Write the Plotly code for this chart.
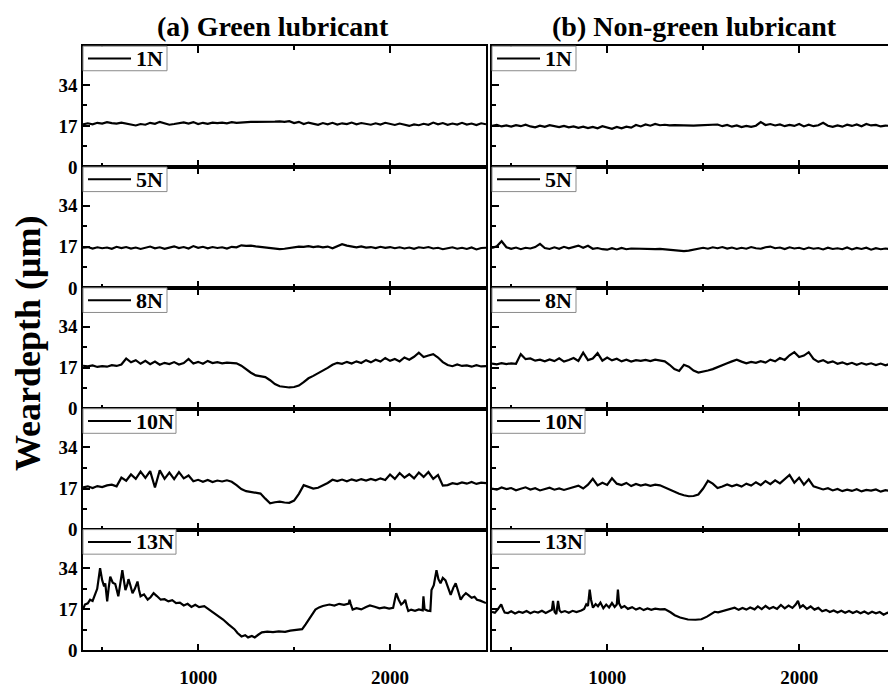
import plotly.graph_objects as go

# ---------------- data ----------------
sliding_x = list(range(400, 2501, 25))  # sampling positions (shared grid)

green_1N = [17.6, 18.1, 17.7, 18.3, 18.0, 18.6, 18.2, 18.0, 18.4, 17.9, 17.6, 17.2,
            17.8, 17.5, 18.3, 17.9, 18.7, 18.2, 17.5, 17.8, 18.1, 18.5, 18.0, 18.6,
            17.8, 18.3, 17.9, 18.4, 18.2, 18.4, 18.1, 18.6, 18.3, 18.5, 18.6, 18.7,
            18.7, 18.8, 18.7, 18.8, 18.8, 18.9, 18.7, 19.0, 18.2, 18.7, 17.8, 18.4,
            17.9, 17.5, 18.2, 17.7, 18.3, 17.6, 18.1, 17.8, 18.4, 17.7, 18.2, 17.9,
            17.5, 18.1, 17.6, 18.3, 17.8, 17.4, 18.0, 17.5, 17.0, 17.6, 17.3, 17.9,
            17.5, 18.4, 17.7, 18.2, 17.5, 18.0, 17.6, 18.3, 17.6, 18.0, 17.4, 18.1,
            17.7]
nongreen_1N = [17.0, 17.4, 16.8, 17.2, 16.7, 17.3, 16.9, 17.5, 16.8, 16.4, 17.1, 16.6,
               17.3, 16.9, 16.5, 17.0, 16.4, 16.8, 16.2, 16.7, 16.1, 16.6, 16.0, 16.9,
               16.2, 15.8, 16.6, 16.0, 16.7, 16.3, 17.4, 16.8, 17.6, 17.1, 17.8, 17.3,
               17.5, 17.2, 17.3, 17.2, 17.2, 17.3, 17.1, 17.2, 17.3, 17.1, 17.3, 17.6,
               16.9, 17.4, 16.7, 17.2, 16.5, 17.0, 16.6, 17.1, 18.6, 17.4, 17.8, 17.2,
               17.6, 16.9, 17.4, 17.0, 17.8, 16.8, 17.5, 16.9, 17.3, 18.3, 17.1, 16.6,
               17.2, 16.7, 17.5, 17.0, 17.6, 16.9, 17.8, 17.2, 17.4, 16.8, 17.1, 16.9,
               17.0]
green_5N = [16.6, 16.9, 16.3, 16.8, 16.4, 16.7, 16.2, 17.0, 16.5, 16.9, 16.3, 16.7,
            16.1, 16.6, 17.1, 16.4, 16.8, 16.2, 16.7, 17.2, 16.5, 16.9, 16.3, 17.3,
            16.6, 17.0, 16.4, 16.9, 16.5, 16.8, 16.3, 17.0, 16.8, 17.6, 17.4, 17.5,
            17.2, 16.9, 16.6, 16.3, 16.1, 16.0, 16.2, 16.5, 16.9, 17.1, 17.0, 17.3,
            16.9, 17.2, 16.8, 17.1, 16.4, 17.4, 18.1, 17.5, 17.1, 16.8, 17.2, 16.7,
            16.9, 16.5, 17.0, 16.6, 16.9, 16.4, 16.8, 16.3, 16.7, 16.2, 16.8, 16.5,
            16.9, 16.3, 16.6, 16.0, 16.4, 16.8, 16.2, 16.6, 16.1, 16.7, 15.9, 16.5,
            16.6]
nongreen_5N = [16.5, 17.2, 19.3, 16.8, 16.2, 16.7, 16.0, 16.6, 16.3, 16.9, 18.2, 16.5,
               16.1, 16.8, 16.2, 17.0, 16.4, 17.1, 17.5, 16.6, 17.4, 16.2, 16.5, 16.0,
               15.8, 16.4, 15.9, 16.5, 16.0, 16.3, 16.2, 16.4, 16.3, 16.2, 16.0, 16.1,
               15.9, 15.7, 15.4, 15.3, 15.2, 15.4, 15.9, 16.3, 16.6, 16.2, 16.8, 16.4,
               16.9, 16.3, 16.7, 16.1, 16.6, 16.2, 16.9, 16.4, 16.2, 16.8, 17.1, 16.4,
               16.7, 16.1, 16.8, 16.3, 16.6, 16.0, 16.7, 16.2, 16.5, 15.9, 16.6, 16.1,
               16.4, 16.0, 16.7, 15.9, 16.5, 16.1, 16.6, 15.8, 16.4, 16.0, 16.3, 15.9,
               16.2]
green_8N = [17.8, 17.5, 17.9, 17.3, 17.6, 17.4, 18.0, 17.7, 18.3, 20.8, 19.2, 20.1,
            18.6, 19.8, 18.4, 19.5, 18.2, 19.0, 18.5, 19.3, 18.3, 18.9, 20.6, 18.7,
            19.4, 18.6, 19.8, 18.9, 19.3, 18.8, 19.1, 18.9, 18.8, 17.8, 16.3, 14.9,
            13.8, 13.4, 13.1, 11.8, 10.2, 9.3, 8.9, 8.8, 9.0, 9.6, 11.0, 12.6,
            13.6, 14.6, 15.8, 16.9, 18.2, 19.0, 18.6, 19.4, 18.7, 19.6, 18.9, 20.1,
            19.2, 20.3, 19.5, 21.0, 19.8, 20.6, 19.6, 21.2, 20.3, 21.5, 23.2, 21.4,
            22.0, 22.6, 21.2, 19.3, 18.1, 17.6, 18.3, 17.7, 17.9, 17.4, 18.0, 17.5,
            17.6]
nongreen_8N = [18.7, 18.4, 18.9, 18.5, 18.8, 18.6, 22.6, 20.5, 20.8, 19.9, 20.3, 19.6,
               20.4, 19.7, 20.9, 19.5, 20.2, 21.0, 19.8, 23.2, 20.1, 20.8, 23.0, 19.9,
               21.2, 20.0, 20.7, 19.6, 20.3, 19.5, 20.1, 19.8, 20.2, 19.7, 20.3, 19.9,
               19.6, 18.2, 16.4, 15.6, 18.2, 17.4, 15.8, 15.0, 15.3, 15.8, 16.4, 17.1,
               18.0, 18.8, 19.6, 20.3, 19.5, 18.8, 19.4, 19.0, 19.7, 19.1, 20.3, 19.6,
               21.0, 20.2, 22.1, 23.4, 21.4, 22.0, 23.4, 20.6, 19.4, 20.1, 19.0, 19.6,
               18.6, 19.2, 18.4, 19.0, 18.2, 18.9, 18.3, 18.8, 18.1, 18.7, 18.0, 18.6,
               18.3]
green_10N = [17.5, 17.9, 17.2, 18.0, 17.6, 18.3, 18.6, 17.9, 21.5, 20.2, 22.8, 21.0,
             24.0, 21.4, 24.2, 17.4, 24.5, 21.0, 23.6, 20.9, 23.8, 21.2, 22.4, 20.0,
             20.6, 19.8, 20.5, 19.7, 20.3, 19.9, 20.4, 19.8, 18.4, 16.8, 15.9, 15.6,
             15.3, 14.9, 12.8, 10.9, 11.3, 11.6, 11.2, 11.1, 12.0, 14.8, 18.4, 17.6,
             17.0, 17.3, 18.2, 19.3, 20.6, 20.1, 20.7, 20.0, 20.8, 20.2, 20.9, 20.3,
             21.0, 20.4, 21.2, 20.5, 22.8, 21.0, 23.4, 21.5, 22.9, 21.2, 23.6, 21.8,
             23.8, 21.0, 22.6, 18.2, 18.4, 19.2, 18.8, 19.5, 19.0, 19.7, 18.9, 19.4,
             19.2]
nongreen_10N = [17.0, 16.5, 17.4, 16.8, 17.2, 16.3, 16.9, 17.5, 16.6, 17.1, 16.2, 16.9,
                17.3, 16.5, 17.0, 16.4, 16.9, 17.6, 18.2, 17.0, 18.6, 21.0, 18.3, 19.4,
                18.5, 21.2, 19.0, 18.4, 19.3, 18.0, 18.9, 18.2, 18.7, 18.1, 18.6, 18.3,
                17.4, 16.4, 15.6, 14.8, 14.2, 13.8, 13.9, 14.5, 17.0, 20.2, 19.0, 17.2,
                17.8, 18.7, 17.9, 18.6, 17.8, 19.0, 18.2, 19.6, 18.4, 20.1, 18.8, 20.4,
                19.1, 21.0, 22.6, 19.4, 21.5, 18.6, 20.8, 17.9, 17.2, 16.6, 17.1, 16.2,
                16.8, 15.9, 16.5, 16.0, 16.7, 15.8, 16.4, 16.1, 16.6, 15.7, 16.3, 16.0,
                16.2]

# spiky 13N traces: (sliding distance, wear depth) pairs
green_13N = [
    (400, 17.0), (410, 19.0), (425, 19.5), (437, 21.0), (450, 20.5), (462, 23.0),
    (474, 25.5), (482, 30.0), (489, 34.0), (500, 29.0), (510, 26.5), (516, 27.8),
    (522, 23.0), (526, 20.3), (534, 26.0), (542, 30.5), (555, 28.0), (568, 27.5),
    (576, 25.0), (584, 22.4), (595, 28.0), (605, 33.2), (613, 29.0), (621, 25.0),
    (630, 27.0), (637, 29.5), (645, 27.5), (658, 23.7), (670, 25.5), (684, 28.5),
    (692, 25.0), (700, 22.4), (718, 23.2), (737, 21.0), (752, 22.0), (768, 23.7),
    (785, 22.5), (805, 21.0), (825, 21.2), (845, 20.3), (865, 20.8), (885, 19.6),
    (905, 19.8), (925, 18.6), (945, 19.3), (965, 18.0), (985, 18.9), (1005, 17.9),
    (1032, 18.3), (1060, 16.8), (1085, 15.3), (1105, 14.2), (1130, 12.8), (1158, 10.8),
    (1175, 9.9), (1189, 8.8), (1205, 7.2), (1226, 5.8), (1245, 6.3), (1260, 5.4),
    (1280, 6.0), (1295, 5.4), (1315, 6.6), (1332, 7.5), (1360, 7.8), (1390, 7.6),
    (1420, 7.9), (1453, 7.7), (1480, 8.2), (1510, 8.4), (1542, 8.8), (1560, 10.8),
    (1579, 12.9), (1595, 15.0), (1611, 16.9), (1630, 17.8), (1650, 18.4), (1684, 19.0),
    (1710, 18.6), (1735, 19.3), (1760, 18.9), (1785, 19.4), (1789, 21.0), (1795, 19.2),
    (1805, 16.9), (1825, 17.5), (1850, 17.0), (1875, 18.0), (1895, 18.6), (1920, 18.1),
    (1945, 17.4), (1970, 17.8), (1995, 17.3), (2016, 17.6), (2025, 20.5), (2032, 23.7),
    (2045, 21.0), (2058, 19.0), (2070, 19.8), (2079, 21.0), (2088, 18.0), (2095, 16.3),
    (2110, 16.9), (2130, 16.4), (2150, 17.0), (2170, 16.6), (2174, 22.4), (2180, 17.0),
    (2195, 16.5), (2210, 16.3), (2216, 25.0), (2228, 27.0), (2242, 33.2), (2252, 29.5),
    (2263, 27.8), (2275, 30.0), (2289, 29.0), (2300, 26.5), (2316, 23.0), (2330, 26.0),
    (2342, 27.8), (2355, 24.5), (2368, 21.0), (2380, 22.5), (2395, 23.7), (2410, 22.8),
    (2425, 21.8), (2440, 22.2), (2453, 21.0), (2470, 20.6), (2485, 20.0), (2500, 19.6),
]
nongreen_13N = [
    (400, 16.0), (415, 15.6), (430, 17.0), (448, 19.1), (458, 17.0), (466, 15.7),
    (483, 15.5), (500, 16.2), (520, 15.3), (540, 16.0), (560, 15.6), (580, 16.3),
    (600, 15.4), (620, 16.1), (640, 15.7), (660, 16.4), (680, 15.5), (700, 16.2),
    (712, 16.8), (718, 20.5), (726, 16.0), (735, 15.0), (744, 20.5), (752, 16.5),
    (761, 15.8), (780, 16.3), (800, 15.6), (820, 16.4), (840, 15.9), (865, 16.5),
    (880, 17.2), (891, 19.1), (900, 18.4), (909, 25.2), (916, 21.0), (926, 17.7),
    (940, 19.2), (952, 18.3), (965, 19.8), (980, 17.5), (995, 19.0), (1010, 17.8),
    (1025, 19.6), (1039, 18.0), (1050, 19.0), (1056, 25.2), (1062, 19.5), (1074, 17.7),
    (1090, 18.4), (1108, 17.2), (1130, 17.9), (1150, 16.9), (1170, 17.6), (1190, 16.7),
    (1210, 17.4), (1230, 16.8), (1250, 17.3), (1275, 17.0), (1300, 17.1), (1330, 15.8),
    (1352, 14.6), (1380, 13.6), (1421, 12.8), (1460, 12.7), (1491, 12.9), (1520, 14.0),
    (1545, 15.2), (1560, 16.0), (1578, 15.8), (1595, 16.2), (1620, 16.8), (1645, 17.3),
    (1664, 17.7), (1685, 16.8), (1705, 17.6), (1725, 16.9), (1745, 17.8), (1768, 17.0),
    (1785, 18.2), (1805, 17.1), (1825, 18.4), (1845, 17.3), (1865, 18.0), (1885, 17.2),
    (1905, 18.8), (1925, 17.4), (1945, 18.6), (1965, 17.6), (1982, 19.0), (1994, 20.5),
    (2005, 17.8), (2020, 18.7), (2040, 17.2), (2060, 18.2), (2080, 16.9), (2100, 17.6),
    (2120, 16.2), (2140, 16.8), (2160, 15.9), (2180, 16.5), (2200, 15.7), (2220, 16.4),
    (2240, 15.6), (2260, 16.3), (2280, 15.5), (2300, 16.2), (2320, 15.4), (2340, 16.1),
    (2360, 15.2), (2380, 16.0), (2400, 15.4), (2420, 15.9), (2440, 14.8), (2460, 15.6),
    (2480, 15.0), (2500, 15.4),
]

loads = ["1N", "5N", "8N", "10N", "13N"]
panel_titles = ["(a) Green lubricant", "(b) Non-green lubricant"]
y_label = "Weardepth (μm)"
x_tickvals = [1000, 2000]
x_minor = [500, 1500, 2500]
y_tickvals = [0, 17, 34]
y_minor = [8.5, 25.5, 42.5]

green = [green_1N, green_5N, green_8N, green_10N, green_13N]
nongreen = [nongreen_1N, nongreen_5N, nongreen_8N, nongreen_10N, nongreen_13N]

# ---------------- layout ----------------
W, H = 888, 688
FONT = "Liberation Serif, Times New Roman, serif"
rows_px = [(47, 170), (170, 293), (293, 416), (416, 539), (539, 662)]
cols_px = [(83, 486), (492, 888)]
x_ranges = [[400, 2500], [400, 2463]]
AXW = 1.6


def series_xy(s):
    if isinstance(s[0], tuple):
        return [p[0] for p in s], [p[1] for p in s]
    return sliding_x, s


fig = go.Figure()
layout = {}
shapes = []
annotations = []

for r in range(5):
    for c in range(2):
        idx = r * 2 + c + 1
        sfx = "" if idx == 1 else str(idx)
        data = green[r] if c == 0 else nongreen[r]
        xs, ys = series_xy(data)
        fig.add_trace(go.Scatter(x=xs, y=ys, mode="lines",
                                 line=dict(color="black", width=2.2),
                                 xaxis="x" + sfx, yaxis="y" + sfx,
                                 showlegend=False, hoverinfo="skip"))
        (x0p, x1p), (y0p, y1p) = cols_px[c], rows_px[r]
        tickfont = dict(family=FONT, size=19, color="black", weight="bold")
        layout["xaxis" + sfx] = dict(
            domain=[x0p / W, x1p / W], range=x_ranges[c], anchor="y" + sfx,
            showline=True, linecolor="black", linewidth=AXW, mirror="ticks",
            ticks="inside", ticklen=7, tickwidth=2, tickcolor="black",
            tickvals=x_tickvals, showticklabels=(r == 4), tickfont=tickfont,
            ticklabelstandoff=9,
            minor=dict(tickvals=x_minor, ticks="inside", ticklen=4,
                       tickwidth=2, tickcolor="black"),
            showgrid=False, zeroline=False, fixedrange=True)
        layout["yaxis" + sfx] = dict(
            domain=[1 - y1p / H, 1 - y0p / H], range=[0, 50], anchor="x" + sfx,
            showline=True, linecolor="black", linewidth=AXW,
            mirror=(c == 0),
            ticks="inside", ticklen=7, tickwidth=2, tickcolor="black",
            tickvals=y_tickvals, showticklabels=(c == 0), tickfont=tickfont,
            minor=dict(tickvals=y_minor, ticks="inside", ticklen=4,
                       tickwidth=2, tickcolor="black"),
            showgrid=False, zeroline=False, fixedrange=True)

        # legend-like box in the top-left corner
        bw = 84 if len(loads[r]) == 2 else 93
        bx0, by0 = x0p, y0p
        bx1, by1 = x0p + bw, y0p + 25
        shapes.append(dict(type="rect", xref="paper", yref="paper",
                           x0=bx0 / W, x1=bx1 / W, y0=1 - by1 / H, y1=1 - by0 / H,
                           line=dict(color="#8a8a8a", width=1), fillcolor="white",
                           layer="above"))
        ly = 1 - (y0p + 12.5) / H
        shapes.append(dict(type="line", xref="paper", yref="paper",
                           x0=(x0p + 5) / W, x1=(x0p + 48) / W, y0=ly, y1=ly,
                           line=dict(color="black", width=2), layer="above"))
        annotations.append(dict(xref="paper", yref="paper", x=(x0p + 51) / W, y=ly,
                                xanchor="left", yanchor="middle", showarrow=False,
                                text="<b>%s</b>" % loads[r],
                                font=dict(family=FONT, size=22, color="black")))

annotations.append(dict(xref="paper", yref="paper", x=273 / W, y=1 - 27 / H,
                        xanchor="center", yanchor="middle", showarrow=False,
                        text="<b>%s</b>" % panel_titles[0],
                        font=dict(family=FONT, size=28, color="black")))
annotations.append(dict(xref="paper", yref="paper", x=694 / W, y=1 - 27 / H,
                        xanchor="center", yanchor="middle", showarrow=False,
                        text="<b>%s</b>" % panel_titles[1],
                        font=dict(family=FONT, size=28, color="black")))
annotations.append(dict(xref="paper", yref="paper", x=28 / W, y=1 - 350 / H,
                        xanchor="center", yanchor="middle", showarrow=False,
                        textangle=-90, text="<b>%s</b>" % y_label,
                        font=dict(family=FONT, size=36, color="black")))

fig.update_layout(width=W, height=H, margin=dict(l=0, r=0, t=0, b=0),
                  plot_bgcolor="white", paper_bgcolor="white",
                  showlegend=False, shapes=shapes, annotations=annotations,
                  **layout)

fig.write_html("out.html")
